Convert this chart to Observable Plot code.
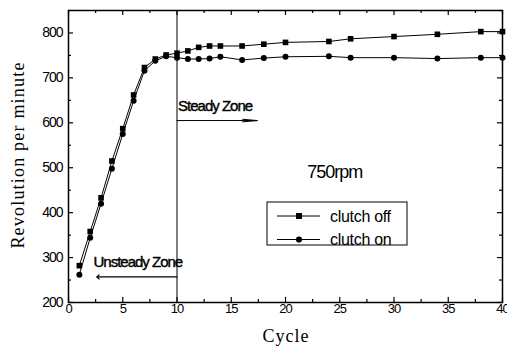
<!DOCTYPE html>
<html><head><meta charset="utf-8">
<script src="https://cdn.jsdelivr.net/npm/d3@7"></script>
<script src="https://cdn.jsdelivr.net/npm/@observablehq/plot@0.6"></script>
<style>body{margin:0;background:#fff}</style>
</head><body><div id="chart"></div>
<script>
// ---- data ----
const cycles    = [1, 2, 3, 4, 5, 6, 7, 8, 9, 10, 11, 12, 13, 14, 16, 18, 20, 24, 26, 30, 34, 38, 40];
const clutchOff = [282, 358, 433, 515, 587, 662, 723, 742, 751, 755, 760, 768, 771, 771, 771, 775, 779, 781, 787, 792, 797, 803, 803];
const clutchOn  = [262, 344, 420, 498, 575, 649, 716, 738, 748, 745, 742, 742, 743, 747, 740, 744, 747, 748, 745, 745, 743, 745, 745];
const seriesNames = ["clutch off", "clutch on"];
const xTicks = [0, 5, 10, 15, 20, 25, 30, 35, 40];
const xMinorTicks = [2.5, 7.5, 12.5, 17.5, 22.5, 27.5, 32.5, 37.5];
const yTicks = [200, 300, 400, 500, 600, 700, 800];
const yMinorTicks = [250, 350, 450, 550, 650, 750, 850];
const boundary = [10];
const steadyArrow = [{x1: 10, x2: 17.4, y: 605}];
const unsteadyArrow = [{x1: 10, x2: 2.6, y: 257}];
const zoneNotes = [{text: "Steady Zone", x: 10.1, y: 627}, {text: "Unsteady Zone", x: 2.3, y: 278}];
const speedNote = [{text: "750rpm", x: 22, y: 478}];

const rows = [];
cycles.forEach((c, i) => {
  rows.push({cycle: c, rpm: clutchOff[i], series: seriesNames[0]});
  rows.push({cycle: c, rpm: clutchOn[i], series: seriesNames[1]});
});

const W = 507, H = 346, mL = 68, mR = 5, mT = 10, mB = 44;
const fw = W - mL - mR, fh = H - mT - mB;

const chart = Plot.plot({
  width: W, height: H,
  marginLeft: mL, marginRight: mR, marginTop: mT, marginBottom: mB,
  style: {fontFamily: "Liberation Sans, Arial, sans-serif", background: "#fff", color: "#000"},
  x: {domain: [0, 40]},
  y: {domain: [200, 850]},
  symbol: {domain: seriesNames, range: ["square", "circle"]},
  marks: [
    Plot.axisX({ticks: xTicks, tickSize: 0, tickPadding: 1, fontSize: 13, label: null}),
    Plot.axisY({ticks: yTicks, tickSize: 0, tickPadding: 6, fontSize: 14, label: null}),
    // inward ticks on all sides
    Plot.ruleX(xTicks, {x: d => d, insetTop: fh - 5, strokeWidth: 1.2}),
    Plot.ruleX(xTicks, {x: d => d, insetBottom: fh - 5, strokeWidth: 1.2}),
    Plot.ruleX(xMinorTicks, {x: d => d, insetTop: fh - 3, strokeWidth: 1.2}),
    Plot.ruleX(xMinorTicks, {x: d => d, insetBottom: fh - 3, strokeWidth: 1.2}),
    Plot.ruleY(yTicks, {y: d => d, insetRight: fw - 5, strokeWidth: 1.2}),
    Plot.ruleY(yTicks, {y: d => d, insetLeft: fw - 5, strokeWidth: 1.2}),
    Plot.ruleY(yMinorTicks, {y: d => d, insetRight: fw - 3, strokeWidth: 1.2}),
    Plot.ruleY(yMinorTicks, {y: d => d, insetLeft: fw - 3, strokeWidth: 1.2}),
    Plot.ruleX(boundary, {x: d => d, stroke: "#000", strokeWidth: 1}),
    Plot.arrow(steadyArrow, {x1: "x1", x2: "x2", y1: "y", y2: "y", stroke: "#000", strokeWidth: 1, headLength: 22, headAngle: 10}),
    Plot.arrow(unsteadyArrow, {x1: "x1", x2: "x2", y1: "y", y2: "y", stroke: "#000", strokeWidth: 1.2, headLength: 4, headAngle: 80}),
    Plot.text(zoneNotes, {x: "x", y: "y", text: "text", textAnchor: "start", lineAnchor: "bottom", fontSize: 15, fill: "#000", stroke: "#000", strokeWidth: 0.4}),
    Plot.text(speedNote, {x: "x", y: "y", text: "text", textAnchor: "start", lineAnchor: "bottom", fontSize: 18, fill: "#000"}),
    Plot.line(rows, {x: "cycle", y: "rpm", z: "series", stroke: "#000", strokeWidth: 1}),
    Plot.dot(rows, {x: "cycle", y: "rpm", symbol: "series", fill: "#000", stroke: "none", r: d => d.series === seriesNames[0] ? 3.9 : 3.5}),
    Plot.frame({stroke: "#000", strokeWidth: 1.5})
  ]
});

document.getElementById("chart").appendChild(chart);
const svg = d3.select(chart);
svg.selectAll('g[aria-label="x-axis tick label"] text, g[aria-label="y-axis tick label"] text').attr("letter-spacing", "-1px").attr("fill", "#000");
svg.selectAll('g[aria-label="text"] text').attr("letter-spacing", "-1px");

// axis titles
svg.append("text")
  .attr("transform", "translate(24,155) rotate(-90)")
  .attr("text-anchor", "middle")
  .attr("font-family", "Liberation Serif, Times New Roman, serif")
  .attr("font-size", 18).attr("letter-spacing", "1.2px")
  .text("Revolution per minute");
svg.append("text")
  .attr("x", 286).attr("y", 342)
  .attr("text-anchor", "middle")
  .attr("font-family", "Liberation Serif, Times New Roman, serif")
  .attr("font-size", 18).attr("letter-spacing", "1px")
  .text("Cycle");

// legend
const lg = svg.append("g");
lg.append("rect").attr("x", 267).attr("y", 202).attr("width", 140).attr("height", 43)
  .attr("fill", "#fff").attr("stroke", "#000").attr("stroke-width", 1);
const sym = [d3.symbolSquare, d3.symbolCircle];
const sizes = [36, 30];
seriesNames.forEach((name, i) => {
  const ly = 216 + i * 23.5;
  lg.append("line").attr("x1", 277).attr("x2", 320).attr("y1", ly).attr("y2", ly).attr("stroke", "#000").attr("stroke-width", 1);
  lg.append("path").attr("d", d3.symbol(sym[i], sizes[i])()).attr("transform", `translate(299,${ly})`).attr("fill", "#000");
  lg.append("text").attr("x", 330).attr("y", ly + 5.5).attr("text-anchor", "start")
    .attr("font-size", 16).attr("letter-spacing", "-0.3px").text(name);
});
</script>
</body></html>
